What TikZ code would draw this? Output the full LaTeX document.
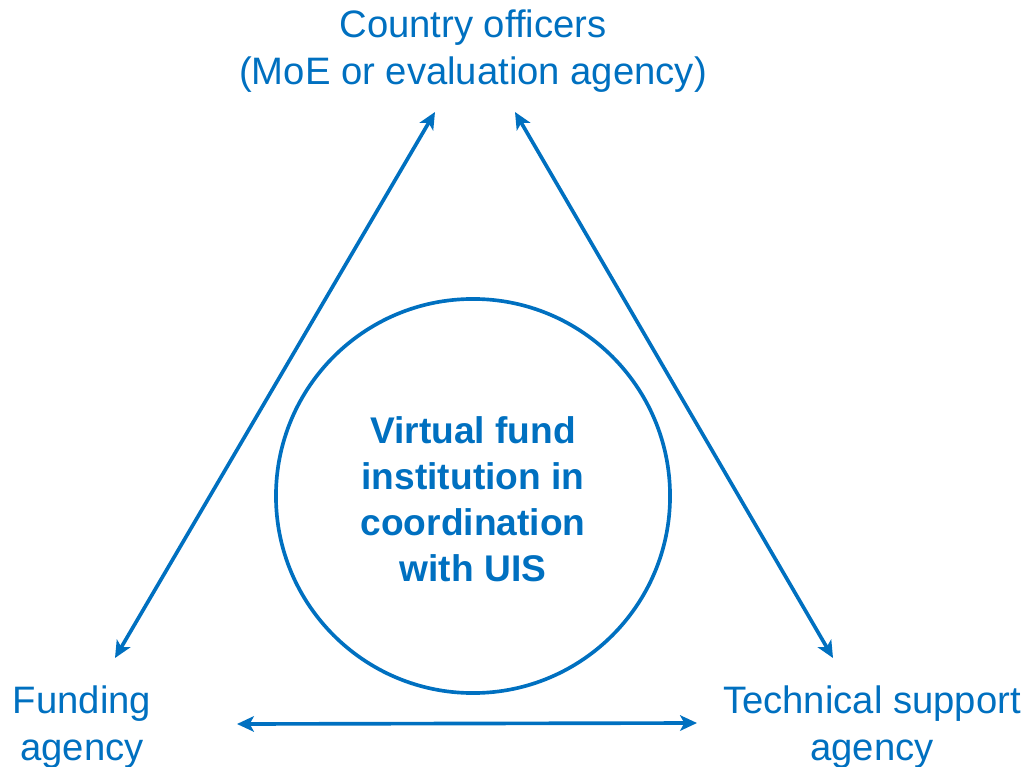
\documentclass[tikz,border=0pt]{standalone}
\usepackage{fontspec}
\setmainfont{Liberation Sans}
\usetikzlibrary{arrows.meta}
\definecolor{uisblue}{HTML}{0070C0}

\begin{document}
\begin{tikzpicture}[
		x=0.025cm, y=-0.025cm,
		actor/.style={text=uisblue, align=center, font=\fontsize{27.2}{33.5}\selectfont},
		link/.style={uisblue, line width=2.6pt, {Stealth[length=12pt,width=11pt,inset=3pt]}-{Stealth[length=12pt,width=11pt,inset=3pt]}}
	]
	\useasboundingbox (0,0) rectangle (1025,767);
	\node[actor] (country) at (473,51) {Country officers\\(MoE or evaluation agency)};
	\node[actor] (funding) at (82,727) {Funding\\agency};
	\node[actor] (technical) at (872,727) {Technical support\\agency};
	\node[circle, draw=uisblue, line width=2.6pt, minimum size=9.85cm] (fund) at (473,496) {};
	\node[text=uisblue, align=center, font=\fontsize{26.4}{32.6}\selectfont\bfseries] (fundtext) at (473,499) {Virtual fund\\institution in\\coordination\\with UIS};
	\coordinate (country-l) at (435,112);
	\coordinate (country-r) at (515,112);
	\coordinate (funding-t) at (115,658);
	\coordinate (technical-t) at (833,658);
	\coordinate (funding-r) at (237,724);
	\coordinate (technical-l) at (697,723);
	\draw[link] (funding-t) -- (country-l);
	\draw[link] (country-r) -- (technical-t);
	\draw[link] (funding-r) -- (technical-l);
\end{tikzpicture}
\end{document}
